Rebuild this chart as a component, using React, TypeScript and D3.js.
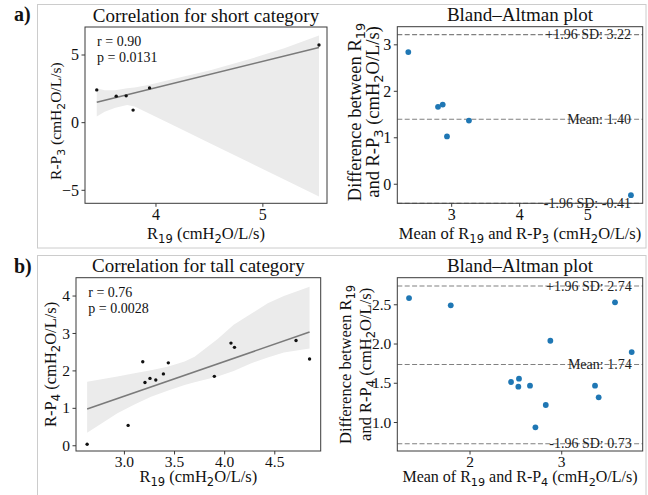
import React from "react";
import * as d3 from "d3";

// ---- data ----
// a) short category
const r19Short = [3.446, 3.628, 3.721, 3.786, 3.94, 5.525];
const rp3Short = [2.42, 1.96, 1.98, 0.93, 2.57, 5.74];
const fitShort = [
  [3.446, 1.51],
  [5.525, 5.56],
];
const bandShortX = [3.446, 3.52, 3.62, 3.73, 3.8, 3.94, 4.2, 4.5, 4.88, 5.2, 5.525];
const bandShortHi = [2.55, 2.4, 2.4, 2.55, 2.6, 2.8, 3.3, 3.85, 4.7, 5.5, 6.45];
const bandShortLo = [0.45, 0.8, 1.1, 1.3, 1.2, 0.66, -0.34, -1.5, -2.96, -4.2, -5.45];
const baShortMean = [2.931, 2.799, 2.868, 2.362, 3.254, 5.637];
const baShortDiff = [1.029, 1.665, 1.714, 2.843, 1.371, -0.236];
const baShortLines = [3.22, 1.4, -0.41];
const baShortLabels = ["+1.96 SD: 3.22", "Mean: 1.40", "-1.96 SD: -0.41"];

// b) tall category
const r19Tall = [2.628, 3.037, 3.205, 3.313, 3.255, 3.389, 3.183, 3.438, 3.897, 4.098, 4.063, 4.847, 4.712];
const rp4Tall = [0.042, 0.544, 1.689, 1.755, 1.799, 1.92, 2.244, 2.215, 1.855, 2.629, 2.743, 2.316, 2.814];
const fitTall = [
  [2.628, 0.98],
  [4.847, 3.04],
];
const bandTallX = [2.628, 2.93, 3.1, 3.265, 3.43, 3.6, 3.7, 3.93, 4.09, 4.26, 4.43, 4.59, 4.847];
const bandTallHi = [1.71, 1.85, 1.94, 2.02, 2.11, 2.25, 2.38, 2.85, 3.23, 3.52, 3.81, 4.0, 4.25];
const bandTallLo = [0.35, 0.87, 1.1, 1.31, 1.47, 1.62, 1.7, 1.85, 2.0, 2.2, 2.36, 2.49, 2.6];
const baTallMean = [1.335, 1.79, 2.447, 2.534, 2.527, 2.654, 2.713, 2.826, 2.876, 3.363, 3.403, 3.581, 3.763];
const baTallDiff = [2.586, 2.493, 1.516, 1.558, 1.456, 1.469, 0.939, 1.223, 2.042, 1.469, 1.321, 2.531, 1.898];
const baTallLines = [2.74, 1.74, 0.73];
const baTallLabels = ["+1.96 SD: 2.74", "Mean: 1.74", "-1.96 SD: 0.73"];

const SERIF = "'Liberation Serif', 'DejaVu Serif', serif";
const SANS = "'DejaVu Sans', sans-serif";
const FRAME = "#3a3a3a";

// label text with _{..} subscripts (mathtext style)
const Label = ({ text, fs, ...rest }: any) => {
  const parts = text
    .split(/(_\{[^}]*\})/)
    .filter((p: string) => p.length)
    .map((p: string) => (p.startsWith("_{") ? { t: p.slice(2, -1), sub: true } : { t: p, sub: false }));
  const sh = fs * 0.24;
  let prevSub = false;
  return (
    <text fontFamily={SERIF} fontSize={fs} fill="#111" {...rest}>
      {parts.map((p: any, i: number) => {
        const dy = p.sub ? sh : prevSub ? -sh : 0;
        prevSub = p.sub;
        return p.sub ? (
          <tspan key={i} dy={dy} fontFamily={SANS} fontSize={fs * 0.7}>
            {p.t}
          </tspan>
        ) : (
          <tspan key={i} dy={dy}>
            {p.t}
          </tspan>
        );
      })}
    </text>
  );
};

const fmtTick = (fmt: string) => (v: number) => d3.format(fmt)(v).replace("-", "\u2212");

const Axes = ({ box, x, y, xTicks, yTicks, xFmt, yFmt, tickFs, title, titleFs, children }: any) => {
  const [l, t, r, b] = box;
  return (
    <g>
      {children}
      <rect x={l} y={t} width={r - l} height={b - t} fill="none" stroke={FRAME} strokeWidth={1} />
      {xTicks.map((v: number) => (
        <g key={"x" + v}>
          <line x1={x(v)} x2={x(v)} y1={b} y2={b + 3.5} stroke={FRAME} />
          <text x={x(v)} y={b + 4 + tickFs * 0.78} textAnchor="middle" fontFamily={SERIF} fontSize={tickFs} fill="#111">
            {fmtTick(xFmt)(v)}
          </text>
        </g>
      ))}
      {yTicks.map((v: number) => (
        <g key={"y" + v}>
          <line x1={l - 3.5} x2={l} y1={y(v)} y2={y(v)} stroke={FRAME} />
          <text x={l - 6} y={y(v)} dy="0.33em" textAnchor="end" fontFamily={SERIF} fontSize={tickFs} fill="#111">
            {fmtTick(yFmt)(v)}
          </text>
        </g>
      ))}
      <text x={(l + r) / 2} y={t - 5.5} textAnchor="middle" fontFamily={SERIF} fontSize={titleFs} fill="#111">
        {title}
      </text>
    </g>
  );
};

const CorrPlot = (p: any) => {
  const [l, t, r, b] = p.box;
  const x = d3.scaleLinear().domain(p.xDomain).range([l, r]);
  const y = d3.scaleLinear().domain(p.yDomain).range([b, t]);
  const band = p.bandX.map((v: number, i: number) => ({ x: v, lo: p.bandLo[i], hi: p.bandHi[i] }));
  const area = d3
    .area<any>()
    .x((d) => x(d.x))
    .y0((d) => y(d.lo))
    .y1((d) => y(d.hi));
  const line = d3
    .line<number[]>()
    .x((d) => x(d[0]))
    .y((d) => y(d[1]));
  const clipId = "clip" + p.id;
  return (
    <g>
      <clipPath id={clipId}>
        <rect x={l} y={t} width={r - l} height={b - t} />
      </clipPath>
      <Axes {...p} x={x} y={y}>
        <g clipPath={`url(#${clipId})`}>
          <path d={area(band) || ""} fill="#ebebeb" />
          <path d={line(p.fit) || ""} fill="none" stroke="#7a7a7a" strokeWidth={1.6} />
          {p.xs.map((v: number, i: number) => (
            <circle key={i} cx={x(v)} cy={y(p.ys[i])} r={1.7} fill="#111" />
          ))}
        </g>
      </Axes>
      {p.stats.map((s: string, i: number) => (
        <text key={i} x={l + 0.05 * (r - l)} y={t + 0.05 * (b - t) + 10.5 + i * 16} fontFamily={SERIF} fontSize={14} fill="#111">
          {s}
        </text>
      ))}
      <Label text={p.xLabel} fs={p.labelFs} x={(l + r) / 2} y={p.xLabelY} textAnchor="middle" />
      <Label
        text={p.yLabel}
        fs={p.yLabelFs}
        textAnchor="middle"
        transform={`translate(${p.yLabelX},${(t + b) / 2 + p.yLabelShift}) rotate(-90)`}
      />
    </g>
  );
};

const BAPlot = (p: any) => {
  const [l, t, r, b] = p.box;
  const x = d3.scaleLinear().domain(p.xDomain).range([l, r]);
  const y = d3.scaleLinear().domain(p.yDomain).range([b, t]);
  const tx = x(d3.max(p.means) as number);
  return (
    <g>
      <Axes {...p} x={x} y={y}>
        {p.lines.map((v: number, i: number) => (
          <line key={"l" + i} x1={l} x2={r} y1={y(v)} y2={y(v)} stroke="#808080" strokeWidth={1.1} strokeDasharray="5,2.4" />
        ))}
        {p.means.map((v: number, i: number) => (
          <circle key={i} cx={x(v)} cy={y(p.diffs[i])} r={2.9} fill="#1f77b4" />
        ))}
        {p.lines.map((v: number, i: number) => (
          <text key={"t" + i} x={tx} y={y(v)} dy="0.33em" textAnchor="end" fontFamily={SERIF} fontSize={14} fill="#222">
            {p.lineLabels[i]}
          </text>
        ))}
      </Axes>
      <Label text={p.xLabel} fs={p.labelFs} x={(l + r) / 2} y={p.xLabelY} textAnchor="middle" />
      {p.yLabel.map((s: string, i: number) => (
        <Label
          key={i}
          text={s}
          fs={p.yLabelFs}
          textAnchor="middle"
          transform={`translate(${p.yLabelX[i]},${(t + b) / 2 + p.yLabelShift}) rotate(-90)`}
        />
      ))}
    </g>
  );
};

export default function App() {
  return (
    <svg width={648} height={495} style={{ position: "absolute", left: 0, top: 0, background: "#fff" }}>
      <rect x={37.5} y={4.5} width={608.5} height={243.5} fill="none" stroke="#cccccc" />
      <rect x={37.5} y={255.5} width={608.5} height={245} fill="none" stroke="#cccccc" />
      <text x={14} y={21} fontFamily={SERIF} fontWeight="bold" fontSize={20} fill="#111">
        a)
      </text>
      <text x={14} y={273} fontFamily={SERIF} fontWeight="bold" fontSize={20} fill="#111">
        b)
      </text>

      <CorrPlot
        id="a"
        box={[85, 27, 327, 203.3]}
        xDomain={[3.336, 5.6]}
        yDomain={[-5.96, 7.07]}
        xTicks={[4, 5]}
        yTicks={[-5, 0, 5]}
        xFmt="d"
        yFmt="d"
        tickFs={16}
        title="Correlation for short category"
        titleFs={19}
        labelFs={16.5}
        yLabelFs={15.5}
        xs={r19Short}
        ys={rp3Short}
        fit={fitShort}
        bandX={bandShortX}
        bandLo={bandShortLo}
        bandHi={bandShortHi}
        stats={["r = 0.90", "p = 0.0131"]}
        xLabel="R_{19} (cmH_{2}O/L/s)"
        xLabelY={239}
        yLabel="R-P_{3} (cmH_{2}O/L/s)"
        yLabelX={61}
        yLabelShift={6}
      />
      <BAPlot
        box={[397.3, 26.7, 642.7, 203.3]}
        xDomain={[2.2, 5.81]}
        yDomain={[-0.41, 3.39]}
        xTicks={[3, 4, 5]}
        yTicks={[0, 1, 2, 3]}
        xFmt="d"
        yFmt="d"
        tickFs={16}
        title="Bland–Altman plot"
        titleFs={19}
        labelFs={16.5}
        yLabelFs={18.5}
        means={baShortMean}
        diffs={baShortDiff}
        lines={baShortLines}
        lineLabels={baShortLabels}
        xLabel="Mean of R_{19} and R-P_{3} (cmH_{2}O/L/s)"
        xLabelY={239}
        yLabel={["Difference between R_{19}", "and R-P_{3} (cmH_{2}O/L/s)"]}
        yLabelX={[361, 379]}
        yLabelShift={-3}
      />

      <CorrPlot
        id="b"
        box={[76, 277.7, 320.7, 451]}
        xDomain={[2.517, 4.958]}
        yDomain={[-0.14, 4.49]}
        xTicks={[3.0, 3.5, 4.0, 4.5]}
        yTicks={[0, 1, 2, 3, 4]}
        xFmt=".1f"
        yFmt="d"
        tickFs={15.5}
        title="Correlation for tall category"
        titleFs={19}
        labelFs={16.5}
        yLabelFs={16.5}
        xs={r19Tall}
        ys={rp4Tall}
        fit={fitTall}
        bandX={bandTallX}
        bandLo={bandTallLo}
        bandHi={bandTallHi}
        stats={["r = 0.76", "p = 0.0028"]}
        xLabel="R_{19} (cmH_{2}O/L/s)"
        xLabelY={482}
        yLabel="R-P_{4} (cmH_{2}O/L/s)"
        yLabelX={56}
        yLabelShift={0}
      />
      <BAPlot
        box={[397.3, 277.7, 642.7, 451]}
        xDomain={[1.207, 3.883]}
        yDomain={[0.637, 2.845]}
        xTicks={[2, 3]}
        yTicks={[1.0, 1.5, 2.0, 2.5]}
        xFmt="d"
        yFmt=".1f"
        tickFs={15.5}
        title="Bland–Altman plot"
        titleFs={19}
        labelFs={16}
        yLabelFs={16.5}
        means={baTallMean}
        diffs={baTallDiff}
        lines={baTallLines}
        lineLabels={baTallLabels}
        xLabel="Mean of R_{19} and R-P_{4} (cmH_{2}O/L/s)"
        xLabelY={482}
        yLabel={["Difference between R_{19}", "and R-P_{4} (cmH_{2}O/L/s)"]}
        yLabelX={[351, 371]}
        yLabelShift={0}
      />
    </svg>
  );
}
